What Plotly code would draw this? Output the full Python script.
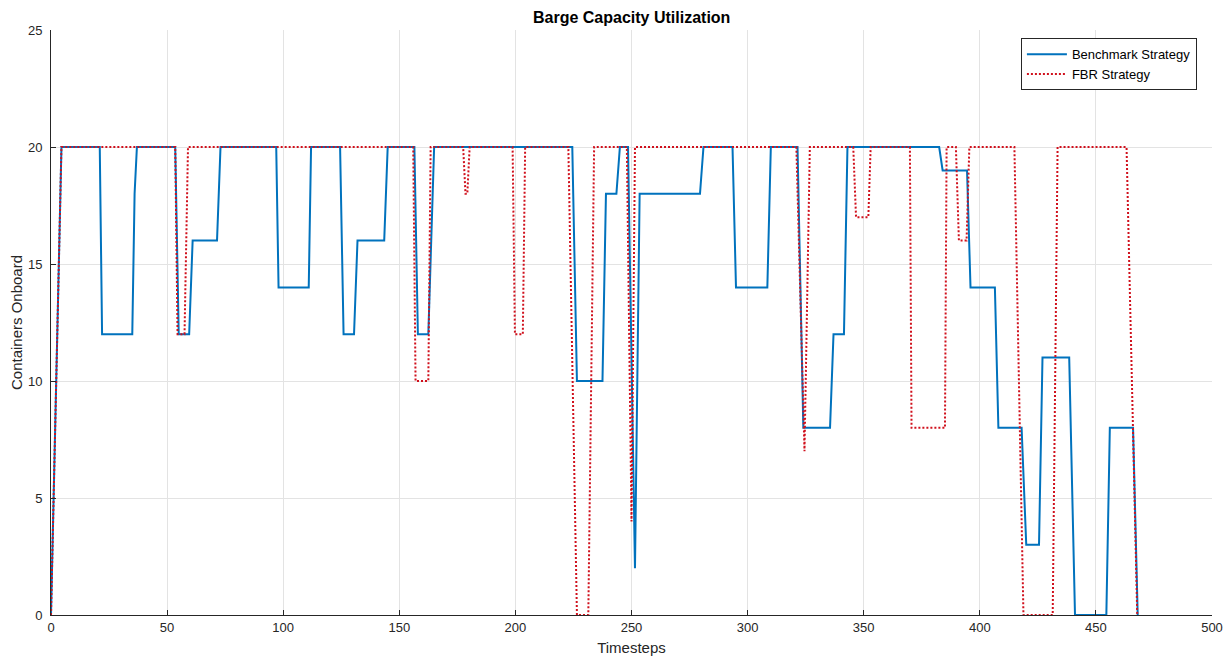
import plotly.graph_objects as go

# ---- data ----
bench_t = [0, 4.5, 21, 22, 35, 36, 37, 53.5, 55, 59.5, 61, 71.5, 73, 97, 98, 111, 112,
           124.5, 126, 130.5, 132, 143.5, 145, 156.5, 158, 162.5, 165, 224.5, 226.5,
           237.5, 239, 243.5, 245, 248.5, 251.5, 253.5, 279.5, 281, 293.5, 295, 308.5,
           310, 321.5, 324, 335.5, 337, 341.5, 343, 382.5, 384, 394.5, 396, 406.5, 408,
           418, 420, 425.5, 427, 438.5, 441, 454.5, 456, 466, 468]
bench_y = [0, 20, 20, 12, 12, 18, 20, 20, 12, 12, 16, 16, 20, 20, 14, 14, 20,
           20, 12, 12, 16, 16, 20, 20, 12, 12, 20, 20, 10,
           10, 18, 18, 20, 20, 2, 18, 18, 20, 20, 14, 14,
           20, 20, 8, 8, 12, 12, 20, 20, 19, 19, 14, 14, 8,
           8, 3, 3, 11, 11, 0, 0, 8, 8, 0]

fbr_t = [0, 4.5, 53.5, 54.5, 57.5, 59, 156, 157, 162.5, 163.5, 177.5, 178.5, 179.3, 180.3,
         198.8, 199.8, 203.2, 204.2, 222.8, 226.5, 231.4, 233.9, 248, 250, 251.5, 321,
         324.5, 326.8, 345.5, 346.7, 352, 353, 369.9, 370.6, 385, 385.7, 389.7, 391,
         394.3, 395.5, 414.9, 418.8, 431.4, 433.5, 463.2, 466, 467.8]
fbr_y = [0, 20, 20, 12, 12, 20, 20, 10, 10, 20, 20, 18, 18, 20,
         20, 12, 12, 20, 20, 0, 0, 20, 20, 4, 20, 20,
         7, 20, 20, 17, 17, 20, 20, 8, 8, 20, 20, 16,
         16, 20, 20, 0, 0, 20, 20, 8, 0]

series_names = ["Benchmark Strategy", "FBR Strategy"]
x_ticks = [0, 50, 100, 150, 200, 250, 300, 350, 400, 450, 500]
y_ticks = [0, 5, 10, 15, 20, 25]

FONT = "Liberation Sans, Arial, sans-serif"
TXT = "#262626"
GRID = "#e3e3e3"

fig = go.Figure()
fig.add_trace(go.Scatter(x=bench_t, y=bench_y, mode="lines", name=series_names[0],
                         line=dict(color="#0072BD", width=2)))
fig.add_trace(go.Scatter(x=fbr_t, y=fbr_y, mode="lines", name=series_names[1],
                         line=dict(color="#d0101c", width=2, dash="2px,2px")))

# page body has an 8px margin, so the figure is sized to fit the window
fig.update_layout(
    width=1223, height=650,
    margin=dict(l=43, r=19, t=22, b=43, autoexpand=False),
    paper_bgcolor="white", plot_bgcolor="white",
    font=dict(family=FONT, size=13, color=TXT),
    showlegend=True,
    legend=dict(x=0.987, y=0.986, xanchor="right", yanchor="top",
                bgcolor="white", bordercolor=TXT, borderwidth=1,
                font=dict(family=FONT, size=13, color="black"),
                tracegroupgap=0, itemwidth=40),
    xaxis=dict(range=[0, 500], tickvals=x_ticks, showgrid=True, gridcolor=GRID,
               zeroline=False, showline=True, linecolor=TXT, linewidth=1,
               ticks="inside", ticklen=5, tickcolor=TXT, automargin=False,
               tickfont=dict(size=13),
               title=dict(text="Timesteps", standoff=8,
                          font=dict(family=FONT, size=15, color=TXT))),
    yaxis=dict(range=[0, 25], tickvals=y_ticks, showgrid=True, gridcolor=GRID,
               zeroline=False, showline=True, linecolor=TXT, linewidth=1,
               ticks="inside", ticklen=5, tickcolor=TXT, automargin=False,
               ticklabelstandoff=5, tickfont=dict(size=13),
               title=dict(text="Containers Onboard", standoff=4,
                          font=dict(family=FONT, size=15, color=TXT))),
    annotations=[dict(text="<b>Barge Capacity Utilization</b>", xref="paper", yref="paper",
                      x=0.5, y=1 + 13 / 585, xanchor="center", yanchor="middle",
                      showarrow=False, font=dict(family=FONT, size=16, color="black"))],
)

fig.write_html("out.html")
